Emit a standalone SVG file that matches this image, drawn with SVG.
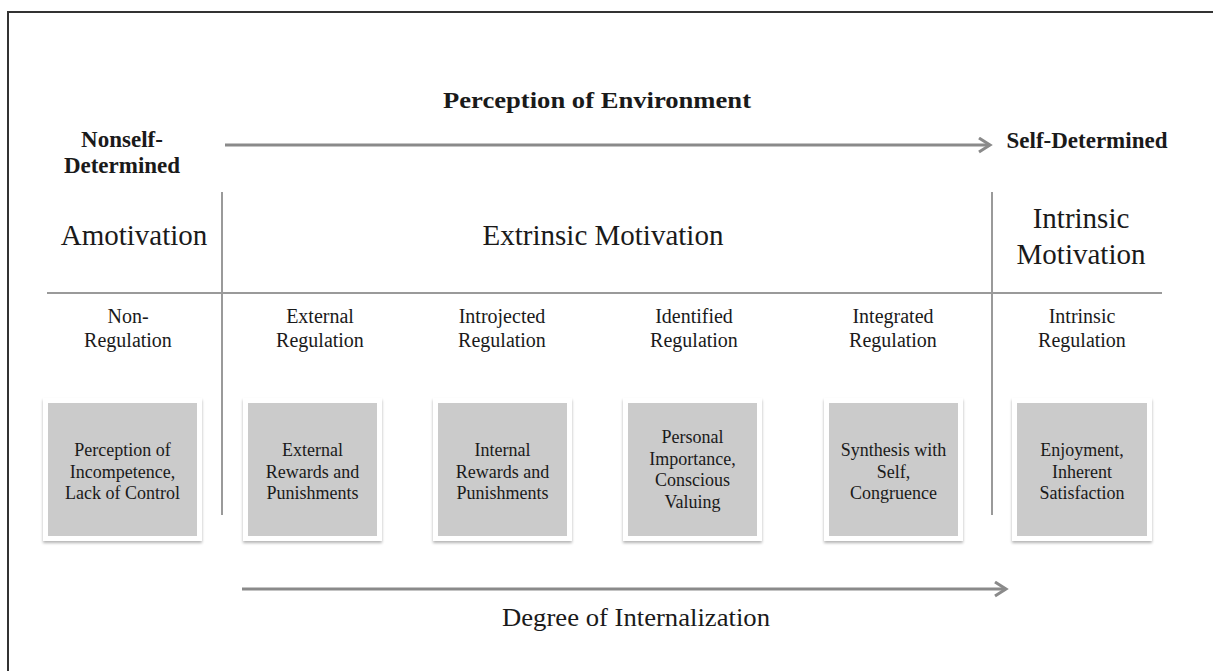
<svg xmlns="http://www.w3.org/2000/svg" width="1213" height="671" viewBox="0 0 1213 671">
<defs>
<style>
.t{font-family:"Liberation Serif","Times New Roman",serif;fill:#1a1a1a;text-anchor:middle}
.b{font-weight:bold;font-size:23px}
.h{font-size:29px}
.r{font-size:20px}
.bx{font-size:18px}
.div{stroke:#9a9a9a;stroke-width:2;fill:none}
.arr{stroke:#8a8a8a;stroke-width:3;fill:none}
.outer{fill:#ffffff;filter:url(#sh)}
.inner{fill:#cbcbcb}
</style>
<filter id="sh" x="-10%" y="-10%" width="120%" height="125%">
<feGaussianBlur in="SourceAlpha" stdDeviation="1.5"/>
<feOffset dy="2" result="o"/>
<feComponentTransfer><feFuncA type="linear" slope="0.3"/></feComponentTransfer>
<feMerge><feMergeNode/><feMergeNode in="SourceGraphic"/></feMerge>
</filter>
<marker id="ah" markerUnits="userSpaceOnUse" markerWidth="20" markerHeight="20" refX="13" refY="8" orient="auto">
<path d="M2,1 L13,8 L2,15" fill="none" stroke="#8a8a8a" stroke-width="3"/>
</marker>
</defs>
<rect width="1213" height="671" fill="#ffffff"/>
<path d="M8,671 V12 H1213" fill="none" stroke="#333" stroke-width="2"/>

<g id="connectors">
<line class="arr" x1="225" y1="145" x2="990" y2="145" marker-end="url(#ah)"/>
<line class="arr" x1="242" y1="589" x2="1006" y2="589" marker-end="url(#ah)"/>
<line class="div" x1="222" y1="192" x2="222" y2="515"/>
<line class="div" x1="992" y1="192" x2="992" y2="515"/>
<line class="div" x1="47" y1="293" x2="1162" y2="293"/>
</g>

<g id="header">
<text class="t b" x="597" y="108" textLength="308" lengthAdjust="spacingAndGlyphs">Perception of Environment</text>
<text class="t b" x="122" y="147">Nonself-</text>
<text class="t b" x="122" y="173">Determined</text>
<text class="t b" x="1087" y="148">Self-Determined</text>
<text class="t" x="636" y="626" font-size="25" textLength="268" lengthAdjust="spacingAndGlyphs">Degree of Internalization</text>
</g>

<g id="categories">
<text class="t h" x="134" y="245">Amotivation</text>
<text class="t h" x="603" y="245">Extrinsic Motivation</text>
<text class="t h" x="1081" y="228">Intrinsic</text>
<text class="t h" x="1081" y="264">Motivation</text>
</g>

<g id="reg-non">
<text class="t r" x="128" y="323">Non-</text>
<text class="t r" x="128" y="347">Regulation</text>
</g>
<g id="reg-external">
<text class="t r" x="320" y="323">External</text>
<text class="t r" x="320" y="347">Regulation</text>
</g>
<g id="reg-introjected">
<text class="t r" x="502" y="323">Introjected</text>
<text class="t r" x="502" y="347">Regulation</text>
</g>
<g id="reg-identified">
<text class="t r" x="694" y="323">Identified</text>
<text class="t r" x="694" y="347">Regulation</text>
</g>
<g id="reg-integrated">
<text class="t r" x="893" y="323">Integrated</text>
<text class="t r" x="893" y="347">Regulation</text>
</g>
<g id="reg-intrinsic">
<text class="t r" x="1082" y="323">Intrinsic</text>
<text class="t r" x="1082" y="347">Regulation</text>
</g>

<g id="box-amotivation">
<rect class="outer" x="43" y="398" width="159" height="143"/>
<rect class="inner" x="48" y="403" width="149" height="133"/>
<text class="t bx" x="122.5" y="456">Perception of</text>
<text class="t bx" x="122.5" y="477.5">Incompetence,</text>
<text class="t bx" x="122.5" y="499">Lack of Control</text>
</g>
<g id="box-external">
<rect class="outer" x="243" y="398" width="139" height="143"/>
<rect class="inner" x="248" y="403" width="129" height="133"/>
<text class="t bx" x="312.5" y="456">External</text>
<text class="t bx" x="312.5" y="477.5">Rewards and</text>
<text class="t bx" x="312.5" y="499">Punishments</text>
</g>
<g id="box-introjected">
<rect class="outer" x="433" y="398" width="139" height="143"/>
<rect class="inner" x="438" y="403" width="129" height="133"/>
<text class="t bx" x="502.5" y="456">Internal</text>
<text class="t bx" x="502.5" y="477.5">Rewards and</text>
<text class="t bx" x="502.5" y="499">Punishments</text>
</g>
<g id="box-identified">
<rect class="outer" x="623" y="398" width="139" height="143"/>
<rect class="inner" x="628" y="403" width="129" height="133"/>
<text class="t bx" x="692.5" y="443">Personal</text>
<text class="t bx" x="692.5" y="464.5">Importance,</text>
<text class="t bx" x="692.5" y="486">Conscious</text>
<text class="t bx" x="692.5" y="507.5">Valuing</text>
</g>
<g id="box-integrated">
<rect class="outer" x="824" y="398" width="139" height="143"/>
<rect class="inner" x="829" y="403" width="129" height="133"/>
<text class="t bx" x="893.5" y="456">Synthesis with</text>
<text class="t bx" x="893.5" y="477.5">Self,</text>
<text class="t bx" x="893.5" y="499">Congruence</text>
</g>
<g id="box-intrinsic">
<rect class="outer" x="1012" y="398" width="140" height="143"/>
<rect class="inner" x="1017" y="403" width="130" height="133"/>
<text class="t bx" x="1082" y="456">Enjoyment,</text>
<text class="t bx" x="1082" y="477.5">Inherent</text>
<text class="t bx" x="1082" y="499">Satisfaction</text>
</g>
</svg>
